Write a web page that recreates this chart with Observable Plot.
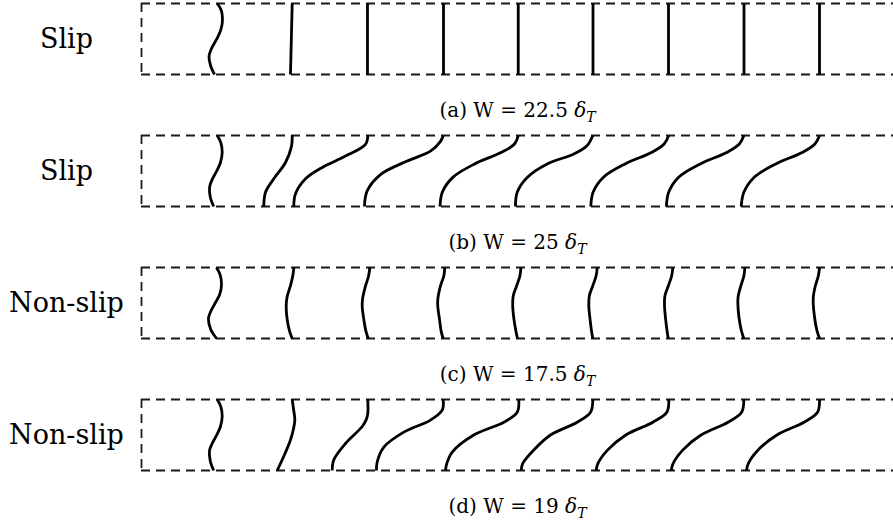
<!DOCTYPE html>
<html><head><meta charset="utf-8">
<script src="https://cdn.jsdelivr.net/npm/d3@7"></script>
<script src="https://cdn.jsdelivr.net/npm/@observablehq/plot@0.6"></script>
<style>
html,body{margin:0;padding:0;background:#fff;}
#chart{width:893px;height:527px;overflow:hidden;}
#chart svg text{font-family:"DejaVu Serif",serif;}
</style></head><body><div id="chart"></div>
<script>
// Panels, regime labels and channel widths (in delta_T)
const panels = ["a", "b", "c", "d"];
const regimes = ["Slip", "Slip", "Non-slip", "Non-slip"];
const widths = ["22.5", "25", "17.5", "19"];

// Channel extent (streamwise units) and wall positions (fraction of width)
const channelX = [0, 100];
const walls = [0, 1];

// Flame-front snapshots: each is a list of [x, y] points
const fronts_a = [
  [[10.07,1],[10.57,0.915],[10.77,0.79],[10.57,0.634],[9.97,0.493],[9.31,0.366],[8.98,0.254],[9.18,0.127],[9.71,0]],
  [[20.04,1],[19.81,0]],
  [[30.05,1],[30.05,0]],
  [[40.16,1],[40.16,0]],
  [[50.1,1],[50.1,0]],
  [[60.04,1],[60.04,0]],
  [[70.08,1],[70.08,0]],
  [[80.12,1],[80.12,0]],
  [[90.16,1],[90.16,0]]
];
const fronts_b = [
  [[10.07,1],[10.55,0.9],[10.73,0.76],[10.5,0.62],[10.0,0.5],[9.4,0.38],[9.05,0.27],[9.15,0.13],[9.6,0]],
  [[20.04,1],[19.95,0.85],[19.15,0.62],[17.59,0.39],[16.49,0.2],[16.26,0]],
  [[30.09,1],[29.79,0.875],[27.13,0.71],[24.03,0.55],[21.81,0.39],[20.48,0.18],[20.25,0]],
  [[40.12,1],[39.76,0.917],[38.43,0.78],[35.33,0.64],[31.78,0.45],[30.01,0.22],[29.65,0]],
  [[50.1,1],[49.6,0.88],[47.8,0.76],[44.3,0.6],[41.4,0.41],[40.0,0.2],[39.7,0]],
  [[60.01,1],[59.27,0.86],[57.49,0.74],[53.95,0.6],[51.29,0.41],[49.96,0.2],[49.73,0]],
  [[70.1,1],[69.5,0.88],[67.8,0.76],[64.3,0.6],[61.4,0.41],[60.05,0.2],[59.75,0]],
  [[80.1,1],[79.5,0.88],[77.8,0.76],[74.3,0.6],[71.4,0.41],[70.1,0.2],[69.8,0]],
  [[90.16,1],[89.55,0.88],[87.85,0.76],[84.35,0.6],[81.45,0.41],[80.1,0.2],[79.75,0]]
];
const fronts_c = [
  [[9.97,1],[10.45,0.9],[10.64,0.76],[10.4,0.62],[9.8,0.5],[9.2,0.38],[8.9,0.28],[9.2,0.13],[9.97,0]],
  [[20.25,1],[20.15,0.9],[19.85,0.76],[19.35,0.58],[19.24,0.45],[19.37,0.27],[19.7,0.1],[20.04,0]],
  [[30.36,1],[30.2,0.88],[29.79,0.74],[29.4,0.56],[29.35,0.45],[29.56,0.27],[29.85,0.1],[30.15,0]],
  [[40.33,1],[40.2,0.88],[39.76,0.74],[39.4,0.55],[39.4,0.45],[39.63,0.27],[39.85,0.1],[40.12,0]],
  [[50.45,1],[50.32,0.88],[49.88,0.74],[49.43,0.6],[49.36,0.46],[49.53,0.27],[49.8,0.1],[50.0,0]],
  [[60.6,1],[60.45,0.88],[60.0,0.74],[59.55,0.6],[59.48,0.46],[59.65,0.27],[59.85,0.1],[60.01,0]],
  [[70.65,1],[70.5,0.88],[70.05,0.74],[69.6,0.6],[69.55,0.46],[69.7,0.27],[69.9,0.1],[70.04,0]],
  [[80.23,1],[80.1,0.88],[79.7,0.74],[79.35,0.6],[79.3,0.5],[79.45,0.3],[79.75,0.12],[80.09,0]],
  [[90.16,1],[90.0,0.88],[89.6,0.74],[89.35,0.6],[89.32,0.5],[89.5,0.3],[89.8,0.12],[90.16,0]]
];
const fronts_d = [
  [[10.07,1],[10.55,0.9],[10.73,0.76],[10.5,0.62],[10.0,0.5],[9.4,0.38],[9.04,0.28],[9.15,0.13],[9.6,0]],
  [[20.04,1],[20.21,0.87],[20.39,0.71],[20.2,0.58],[19.81,0.43],[18.92,0.2],[18.05,0]],
  [[30.09,1],[30.09,0.8],[29.9,0.72],[29.35,0.62],[27.13,0.38],[25.57,0.15],[25.36,0]],
  [[40.12,1],[39.99,0.85],[38.43,0.71],[34.88,0.54],[32.23,0.33],[31.34,0.12],[31.25,0]],
  [[50.17,1],[49.96,0.82],[48.18,0.68],[44.19,0.5],[41.32,0.26],[40.6,0.1],[40.43,0]],
  [[60.01,1],[59.71,0.82],[57.94,0.68],[54.39,0.5],[52.17,0.29],[50.7,0.1],[50.49,0]],
  [[70.12,1],[69.85,0.82],[68.0,0.68],[64.4,0.5],[62.0,0.29],[60.7,0.1],[60.45,0]],
  [[80.09,1],[79.8,0.82],[78.0,0.68],[74.4,0.5],[72.0,0.29],[70.7,0.1],[70.44,0]],
  [[90.16,1],[89.9,0.82],[88.1,0.68],[84.5,0.5],[82.0,0.29],[80.7,0.1],[80.45,0]]
];

// Tables built from the arrays above
const fronts = {a: fronts_a, b: fronts_b, c: fronts_c, d: fronts_d};
const points = panels.flatMap(p => fronts[p].flatMap((curve, i) =>
  curve.map(([x, y]) => ({panel: p, id: p + i, x, y}))));
const panelRows = panels.map((p, i) => ({
  panel: p, regime: regimes[i], caption: `(${p}) W = ${widths[i]} δT`, wall: channelX[0]
}));
const wallRows = panels.flatMap(p => walls.map(w => ({panel: p, y: w})));

const serif = "DejaVu Serif";
const dash = {stroke: "#1a1a1a", strokeWidth: 1.8, strokeDasharray: "9,6"};

const chart = Plot.plot({
  width: 893,
  height: 527,
  marginLeft: 141,
  marginRight: 0,
  marginTop: 2,
  marginBottom: 57,
  x: {domain: channelX, axis: null},
  y: {domain: walls, axis: null},
  fy: {domain: panels, paddingInner: 0.463, paddingOuter: 0, axis: null, label: null},
  facet: {marginTop: 0, marginBottom: 0, marginLeft: 0, marginRight: 0},
  style: "background: white; color: black; overflow: visible; font-family: 'DejaVu Serif', serif;",
  marks: [
    Plot.ruleY(wallRows, {fy: "panel", y: "y", ...dash}),
    Plot.ruleX(panelRows, {fy: "panel", x: "wall", ...dash}),
    Plot.line(points, {fy: "panel", x: "x", y: "y", z: "id", curve: "catmull-rom",
      stroke: "black", strokeWidth: 2.8, strokeLinecap: "butt"}),
    Plot.text(panelRows, {fy: "panel", text: "regime", frameAnchor: "left", dx: -75,
      textAnchor: "middle", lineAnchor: "middle", fontSize: 27, fontFamily: serif, fill: "black"}),
    Plot.text(panelRows, {fy: "panel", text: "caption", frameAnchor: "bottom", dy: 36,
      textAnchor: "middle", lineAnchor: "middle", fontSize: 20, fontFamily: serif, fill: "black"})
  ]
});

// Typeset the math part of the captions: italic delta with subscript T
chart.querySelectorAll("text").forEach(t => {
  const s = t.textContent;
  const i = s.indexOf("δT");
  if (i < 0) return;
  t.textContent = s.slice(0, i);
  const ns = "http://www.w3.org/2000/svg";
  const d = document.createElementNS(ns, "tspan");
  d.setAttribute("font-style", "italic");
  d.textContent = "δ";
  const sub = document.createElementNS(ns, "tspan");
  sub.setAttribute("font-style", "italic");
  sub.setAttribute("font-size", "14");
  sub.setAttribute("dy", "5");
  sub.textContent = "T";
  t.appendChild(d);
  t.appendChild(sub);
});

document.getElementById("chart").appendChild(chart);
</script>
</body></html>
